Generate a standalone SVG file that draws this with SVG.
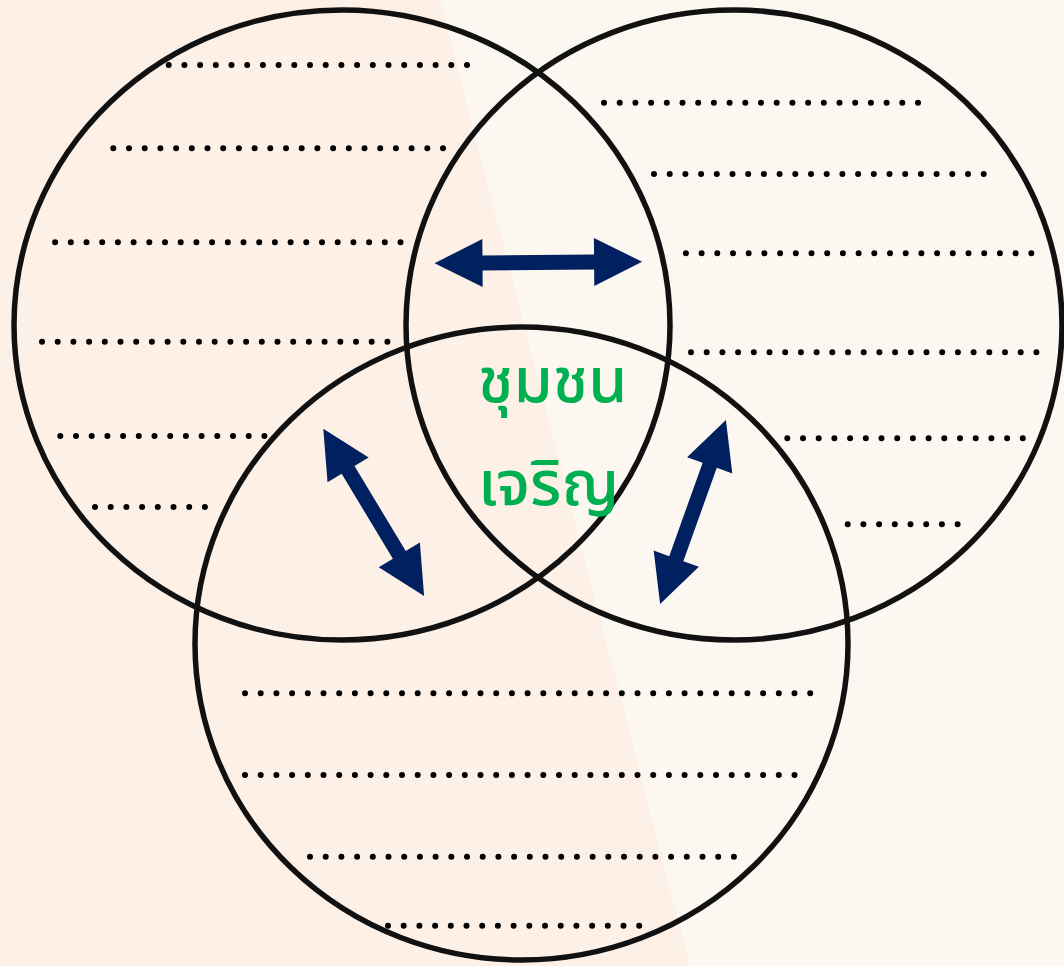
<svg xmlns="http://www.w3.org/2000/svg" width="1064" height="966" viewBox="0 0 1064 966">
  <style>
    .ring { fill: none; stroke: #111111; stroke-width: 5.5; }
    .dots { stroke: #000000; stroke-width: 6; stroke-linecap: round; stroke-dasharray: 0 15.7; fill: none; }
    .arrow { fill: #00205F; }
    .label { font-family: "Noto Sans Thai", "Noto Sans Thai Looped", "Noto Sans", sans-serif; font-size: 63px; font-weight: 500; fill: #00B050; }
  </style>
  <defs>
    <polygon id="dblArrowH" points="-103.8,0 -55.8,-24 -55.8,-7.5 55.8,-7.5 55.8,-24 103.8,0 55.8,24 55.8,7.5 -55.8,7.5 -55.8,24"/>
    <polygon id="dblArrowD" points="-97.6,0 -49.6,-24 -49.6,-7.5 49.6,-7.5 49.6,-24 97.6,0 49.6,24 49.6,7.5 -49.6,7.5 -49.6,24"/>
  </defs>
  <g id="background">
    <rect x="0" y="0" width="1064" height="966" fill="#FCF7F1"/>
    <polygon points="0,0 440,0 690,966 0,966" fill="#FDF0E7"/>
  </g>
  <g id="circle-left">
    <ellipse class="ring" cx="342" cy="325" rx="328" ry="315"/>
    <line class="dots" x1="168.7" y1="65" x2="467.5" y2="65"/>
    <line class="dots" x1="113.3" y1="148.3" x2="443.5" y2="148.3"/>
    <line class="dots" x1="55.1" y1="242.3" x2="401" y2="242.3"/>
    <line class="dots" x1="42" y1="341.7" x2="387.9" y2="341.7"/>
    <line class="dots" x1="60.3" y1="436" x2="264.9" y2="436"/>
    <line class="dots" x1="95" y1="507" x2="205.4" y2="507"/>
  </g>
  <g id="circle-right">
    <ellipse class="ring" cx="734" cy="325" rx="328" ry="315"/>
    <line class="dots" x1="604" y1="102.7" x2="918.5" y2="102.7"/>
    <line class="dots" x1="654" y1="174" x2="984.2" y2="174"/>
    <line class="dots" x1="685.9" y1="253.3" x2="1031.8" y2="253.3"/>
    <line class="dots" x1="691" y1="352.3" x2="1036.9" y2="352.3"/>
    <line class="dots" x1="787.3" y1="438.3" x2="1023.3" y2="438.3"/>
    <line class="dots" x1="847.7" y1="524.3" x2="958.1" y2="524.3"/>
  </g>
  <g id="circle-bottom">
    <ellipse class="ring" cx="521.5" cy="643.5" rx="326.5" ry="316.5"/>
    <line class="dots" x1="245" y1="693.3" x2="810.7" y2="693.3"/>
    <line class="dots" x1="245" y1="775" x2="795" y2="775"/>
    <line class="dots" x1="310" y1="856.7" x2="734.4" y2="856.7"/>
    <line class="dots" x1="388" y1="925.7" x2="639.7" y2="925.7"/>
  </g>
  <g id="center-label">
    <text class="label" x="478" y="402">ชุมชน</text>
    <text class="label" x="478" y="505">เจริญ</text>
  </g>
  <g id="connectors">
    <use href="#dblArrowH" class="arrow" transform="translate(538.3,262.5) rotate(-0.44)"/>
    <use href="#dblArrowD" class="arrow" transform="translate(373.7,512.4) rotate(58.9)"/>
    <use href="#dblArrowD" class="arrow" transform="translate(693,512) rotate(-70.3)"/>
  </g>
</svg>
